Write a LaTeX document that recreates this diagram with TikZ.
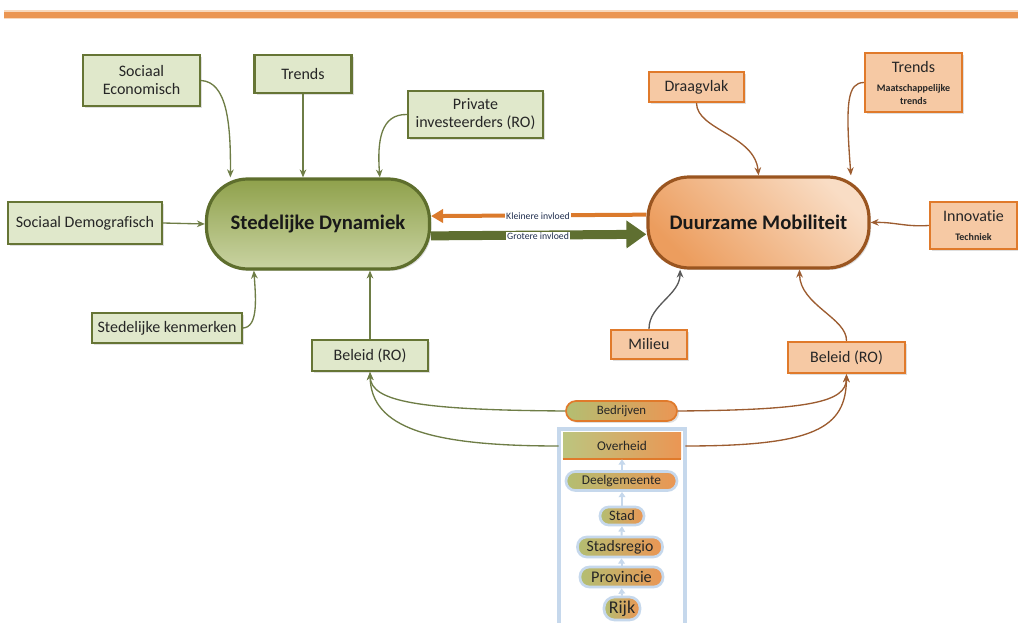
\documentclass[tikz,border=0pt]{standalone}
\usepackage{fontspec}
\setmainfont{Carlito}[Ligatures=CommonOff]
\usetikzlibrary{arrows.meta,shadows,calc}
\definecolor{gfill}{HTML}{E0E8CB}
\definecolor{gdraw}{HTML}{667535}
\definecolor{ofill}{HTML}{F6C9A4}
\definecolor{odraw}{HTML}{E07A2B}
\definecolor{gline}{HTML}{6E7D46}
\definecolor{oline}{HTML}{9C5C30}
\definecolor{sdfillA}{HTML}{8FA14B}
\definecolor{sdfillB}{HTML}{C9D3A2}
\definecolor{sddraw}{HTML}{5E6E2D}
\definecolor{dmfillA}{HTML}{EC9D5E}
\definecolor{dmfillB}{HTML}{F9DDC5}
\definecolor{dmdraw}{HTML}{9A5520}
\definecolor{bluehalo}{HTML}{C6D8EC}
\definecolor{pillg}{HTML}{B3BE72}
\definecolor{pillo}{HTML}{EB9654}
\definecolor{arrowor}{HTML}{DB7A2C}
\definecolor{arrowgr}{HTML}{5F6F31}
\definecolor{navy}{HTML}{1F2D4D}
\definecolor{barcol}{HTML}{EB9652}
\definecolor{barpale}{HTML}{F8D9BC}
\definecolor{ohg}{HTML}{BCC57F}
\newcommand{\smallbold}{\fontsize{7.5}{9}\selectfont\bfseries}
\tikzset{
  shad/.style={drop shadow={opacity=0.25, shadow xshift=1.5pt, shadow yshift=-1.5pt}},
  gbox/.style={shad, draw=gdraw, line width=1.6pt, fill=gfill, align=center, inner sep=0pt,
     font=\fontsize{12}{13.5}\selectfont, text=black!85},
  obox/.style={shad, draw=odraw, line width=1.8pt, fill=ofill, align=center, inner sep=0pt,
     font=\fontsize{12}{13.5}\selectfont, text=black!85},
  gconn/.style={draw=gline, line width=1pt, -{Stealth[length=6pt,width=5pt]}},
  oconn/.style={draw=oline, line width=1pt, -{Stealth[length=6pt,width=5pt]}},
  spill/.style={draw=bluehalo, line width=2pt, left color=pillg, right color=pillo,
     text=black!85, inner sep=0pt},
  sarr/.style={draw=bluehalo, line width=1.5pt, -{Triangle[length=4pt,width=5pt]}},
  alabel/.style={fill=white, inner sep=0.8pt, text=navy, font=\fontsize{7.3}{8}\selectfont}
}
\begin{document}
\begin{tikzpicture}[x=0.75pt,y=-0.75pt]
\useasboundingbox (0,0) rectangle (1018,623);
% top bar
\fill[barpale] (4,10.5) rectangle (1018,19);
\fill[barcol] (4,12) rectangle (1018,17.7);

% main pills
\node[shad, draw=sddraw, line width=2.4pt, rounded corners=31pt, top color=sdfillA, bottom color=sdfillB,
      minimum width=167.25pt, minimum height=67.5pt, font=\fontsize{15.5}{17}\selectfont\bfseries, text=black!90]
      (sd) at (318,224) {Stedelijke Dynamiek};
\node[shad, draw=dmdraw, line width=2.4pt, rounded corners=31pt, left color=dmfillA, right color=dmfillB, shading angle=135,
      minimum width=165.75pt, minimum height=68.25pt, font=\fontsize{15.5}{17}\selectfont\bfseries, text=black!90]
      (dm) at (758.5,222.5) {Duurzame Mobiliteit};

% left boxes
\node[gbox, minimum width=87.75pt, minimum height=38.25pt] (se) at (141.5,80.5) {Sociaal\\Economisch};
\node[gbox, minimum width=72.75pt, minimum height=28.5pt] (tl) at (303,74) {Trends};
\node[gbox, minimum width=101.25pt, minimum height=35.25pt] (pi) at (475.5,114.5) {Private\\investeerders (RO)};
\node[gbox, minimum width=115.5pt, minimum height=31.5pt] (sdm) at (85,223) {Sociaal Demografisch};
\node[gbox, minimum width=112.5pt, minimum height=22.5pt] (sk) at (167,328) {Stedelijke kenmerken};
\node[gbox, minimum width=87pt, minimum height=23.25pt] (bl) at (370,355.5) {Beleid (RO)};

% right boxes
\node[obox, minimum width=71.25pt, minimum height=22.5pt] (dv) at (696.5,87) {Draagvlak};
\node[obox, minimum width=72.75pt, minimum height=44.25pt] (tr) at (913.5,82.5)
  {Trends\\[1pt]\smallbold Maatschappelijke\\[-4pt]\smallbold trends};
\node[obox, minimum width=65.25pt, minimum height=35.25pt] (in) at (973.5,225.5)
  {Innovatie\\[1pt]\smallbold Techniek};
\node[obox, minimum width=57pt, minimum height=21.75pt] (mi) at (649,344.5) {Milieu};
\node[obox, minimum width=87.75pt, minimum height=23.25pt] (br) at (846.5,357.5) {Beleid (RO)};

% stack container
\draw[bluehalo, line width=3pt, fill=white] (559,429) rectangle (685,660);
\node[left color=ohg, right color=pillo, minimum width=88.5pt, minimum height=19.5pt, inner sep=0pt,
      font=\fontsize{10}{11}\selectfont, text=black!85] (oh) at (622,446) {Overheid};
\draw[odraw, line width=1.5pt] (oh.south west) -- (oh.south east);
\node[spill, rounded corners=7pt, minimum width=83.25pt, minimum height=14.25pt, font=\fontsize{10}{11}\selectfont] (dg) at (621.5,481) {Deelgemeente};
\node[spill, rounded corners=6.5pt, minimum width=33pt, minimum height=13.5pt, font=\fontsize{10.8}{12}\selectfont] (st) at (622,516) {Stad};
\node[spill, rounded corners=7pt, minimum width=63.75pt, minimum height=15pt, font=\fontsize{11.8}{13}\selectfont] (sr) at (620,547) {Stadsregio};
\node[spill, rounded corners=7pt, minimum width=62.25pt, minimum height=15pt, font=\fontsize{12.2}{13}\selectfont] (pv) at (621.5,577) {Provincie};
\node[spill, rounded corners=8pt, minimum width=27pt, minimum height=17.25pt, font=\fontsize{13.5}{14}\selectfont] (rk) at (622,608.5) {Rijk};
\draw[sarr] (rk.north) -- (pv.south);
\draw[sarr] (pv.north) -- (sr.south -| pv.north);
\draw[sarr] (sr.north -| pv.north) -- (st.south);
\draw[sarr] (st.north) -- (dg.south -| st.north);
\draw[sarr] (dg.north -| st.north) -- (oh.south -| st.north);

% Bedrijven
\node[shad, draw=odraw, line width=1.3pt, rounded corners=7.5pt, left color=pillg, right color=pillo,
      minimum width=83.25pt, minimum height=15pt, inner sep=0pt, font=\fontsize{9.6}{11}\selectfont, text=black!85]
      (bd) at (621.5,411) {Bedrijven};

% connectors into Stedelijke Dynamiek
\draw[gconn] (se.east) .. controls (226,82) and (231,120) .. (sd.152);
\draw[gconn] (tl.south) -- (tl.south |- sd.north);
\draw[gconn] (pi.west) .. controls (381,114) and (377,140) .. (sd.37);
\draw[gconn] (sdm.east) -- (sd.west);
\draw[gconn] (sk.east) .. controls (258,327) and (256,300) .. (sd.216);
\draw[gconn] (bl.north) -- (bl.north |- sd.south);

% connectors into Duurzame Mobiliteit
\draw[oconn] (dv.south) .. controls (697,130) and (755,135) .. (dm.north);
\draw[oconn] (tr.west) .. controls (848,83) and (845,100) .. (dm.27);
\draw[oconn] (in.west) .. controls (905,227) and (895,222) .. (dm.east);
\draw[draw=black!65, line width=1pt, -{Stealth[length=6pt,width=5pt]}] (mi.north) .. controls (649,305) and (680,295) .. (dm.211);
\draw[oconn] (br.north) .. controls (847,318) and (800,305) .. (dm.311);

% Bedrijven / Overheid to Beleid
\draw[gconn] (bd.west) .. controls (420,410) and (371,402) .. (bl.south);
\draw[oconn] (bd.east) .. controls (810,410) and (846,402) .. (br.south);
\draw[gconn] ($(oh.west)+(-4,0)$) .. controls (430,446) and (371,428) .. (bl.south);
\draw[oconn] ($(oh.east)+(4,0)$) .. controls (815,446) and (846,428) .. (br.south);

% main influence arrows
\draw[arrowor, line width=3pt, -{Triangle[length=9pt,width=10pt]}] (dm.176.6) -- (sd.4.1);
\draw[arrowgr, line width=6.75pt, -{Triangle[length=15pt,width=20pt]}] (sd.354.4) -- (dm.186.5);
\node[alabel] (kl) at (538,216) {Kleinere invloed};
\node[alabel] (gr) at (538,236) {Grotere invloed};
\end{tikzpicture}
\end{document}
